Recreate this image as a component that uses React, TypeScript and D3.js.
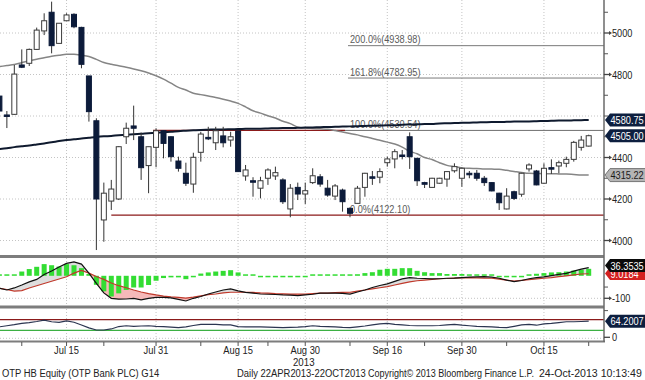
import React from 'react';
import * as d3 from 'd3';

// ---------- DATA ----------
const openP = [4696,4605,4608,4846,4854,4921,5010,5100,4950,5059,5090,5027,4793,4577,4099,4190,4200,4500,4552,4500,4361,4449,4529,4500,4383,4324,4272,4425,4497,4471,4504,4484,4528,4311,4288,4252,4300,4311,4292,4152,4256,4224,4279,4307,4252,4214,4243,4155,4179,4256,4307,4305,4375,4393,4412,4500,4396,4279,4256,4276,4296,4336,4300,4324,4324,4300,4279,4228,4152,4235,4223,4345,4335,4276,4351,4359,4372,4391,4449,4455];
const highP = [4700,4624,4846,4921,4925,5026,5095,5151,5047,5095,5095,5030,4793,4589,4279,4292,4455,4568,4650,4520,4452,4541,4532,4502,4404,4375,4423,4524,4548,4548,4548,4524,4533,4364,4305,4307,4348,4356,4300,4272,4279,4279,4348,4320,4292,4272,4250,4160,4263,4326,4335,4348,4404,4440,4436,4521,4398,4283,4302,4302,4334,4372,4352,4335,4340,4311,4281,4230,4252,4240,4326,4372,4340,4372,4391,4385,4404,4480,4504,4510];
const lowP = [4620,4542,4606,4831,4841,4919,4990,4902,4950,5059,5023,4830,4573,3954,3994,4147,4195,4465,4484,4292,4228,4353,4396,4380,4332,4263,4230,4380,4484,4436,4449,4452,4332,4288,4211,4203,4268,4292,4176,4112,4195,4176,4272,4259,4211,4195,4139,4112,4179,4211,4268,4276,4356,4348,4391,4345,4263,4253,4254,4274,4259,4327,4259,4300,4288,4263,4237,4147,4150,4195,4211,4332,4266,4274,4321,4324,4353,4380,4433,4453];
const closeP = [4624,4605,4802,4835,4921,5014,5059,4939,5047,5087,5030,4849,4621,4200,4228,4248,4452,4541,4541,4351,4452,4529,4468,4404,4348,4276,4401,4513,4497,4529,4471,4500,4332,4340,4281,4288,4340,4327,4187,4252,4224,4240,4312,4272,4219,4263,4187,4131,4252,4324,4307,4332,4393,4428,4412,4404,4288,4271,4300,4300,4332,4356,4348,4324,4300,4279,4239,4182,4214,4203,4324,4364,4268,4348,4351,4375,4391,4473,4484,4505];

const ma50 = [4838,4843,4848,4857,4866,4874,4881,4888,4893,4897,4897,4893,4887,4873,4858,4849,4842,4835,4827,4818,4807,4794,4778,4758,4738,4725,4710,4703,4696,4689,4681,4672,4661,4644,4625,4614,4601,4590,4575,4563,4546,4542,4540,4538,4536,4530,4523,4516,4509,4500,4492,4483,4474,4465,4450,4430,4418,4400,4390,4375,4362,4356,4350,4348,4347,4345,4344,4343,4338,4333,4328,4324,4323,4322,4322,4321,4320,4318,4316,4315.22];
const ma200 = [4441,4445,4450,4454,4458,4463,4468,4473,4479,4484,4488,4491,4495,4499,4502,4504,4507,4509,4512,4514,4517,4519,4522,4524,4527,4529,4531,4533,4534,4535,4535,4536,4537,4538,4539,4539,4540,4541,4542,4542,4543,4544,4545,4546,4547,4548,4549,4550,4551,4552,4553,4554,4555,4556,4558,4559,4560,4561,4562,4564,4565,4566,4567,4568,4569,4570,4571,4571,4572,4573,4574,4574,4575,4576,4577,4578,4578,4579,4580,4580.75];

const macd = [-55,-63,-54,-41,-27,-16,6,21,39,55,62,52,12,-34,-76,-100,-104,-103,-100,-107,-100,-96,-96,-98,-105,-112,-100,-92,-81,-72,-63,-58,-67,-74,-77,-81,-82,-83,-85,-86,-88,-85,-82,-77,-77,-77,-78,-81,-72,-63,-52,-43,-36,-25,-14,-8,-11,-12,-14,-13,-11,-10,-8,-6,-5,-4,-6,-11,-19,-26,-21,-13,-8,-5,1,6,11,21,30,36.3535];
const signal = [-55,-61,-68,-66,-54,-44,-34,-24,-14,-4,12,24,12,-3,-16,-32,-44,-53,-63,-72,-79,-85,-90,-94,-96,-99,-95,-89,-84,-81,-76,-73,-73,-73,-74,-76,-77,-79,-80,-81,-81,-81,-79,-77,-77,-75,-74,-73,-68,-63,-58,-53,-48,-41,-34,-27,-22,-19,-16,-13,-12,-10,-9,-8,-9,-10,-11,-15,-19,-23,-20,-17,-14,-11,-8,-4,0,4,8,9.0184];
const hist = [0,2,4,19,30,40,52,47,41,52,47,34,8,-40,-69,-92,-78,-63,-52,-52,-41,-22,-10,-7,-7,-15,-2,10,15,19,22,25,15,4,2,-2,-2,-3,-3,-3,-4,-2,2,3,3,3,3,2,7,12,16,27,31,31,34,34,22,16,12,12,8,8,8,4,2,2,2,-2,-2,-3,-2,2,9,12,15,16,19,23,27,31];
const rsi = [43,47,51,56,59,63,68,62,60,65,60,50,39,31,31,35,44,47,45,46,47,45,44,42,40,43,48,52,52,52,50,50,44,43,43,43,42,41,40,41,42,44,47,45,44,43,41,40,43,46,50,54,56,52,50,48,47,47,47,48,50,52,49,47,45,44,43,41,40,45,50,52,49,54,56,59,62,62,63,64.2007];

const priceGrid = [4000, 4200, 4400, 4600, 4800, 5000];
const priceTickLabels = [4000, 4200, 4400, 4800, 5000];
const priceMinorTicks = [4100, 4300, 4500, 4600, 4700, 4900, 5100];
const dateTickIdx = [3, 9, 14, 21, 27, 32, 36, 41, 47, 52, 57, 62, 68, 73, 79];
const dateLabels = [
  { i: 9, t: 'Jul 15' }, { i: 21, t: 'Jul 31' }, { i: 32, t: 'Aug 15' }, { i: 41, t: 'Aug 30' },
  { i: 52, t: 'Sep 16' }, { i: 62, t: 'Sep 30' }, { i: 73, t: 'Oct 15' },
];
const yearLabel = { i: 41, t: '2013' };
const fibLevels = [
  { pct: '200.0%', v: 4938.98 },
  { pct: '161.8%', v: 4782.95 },
  { pct: '100.0%', v: 4530.54 },
  { pct: '0.0%', v: 4122.10 },
];
const footerTexts = [
  'OTP HB Equity (OTP Bank PLC) G14',
  'Daily 22APR2013-22OCT2013',
  'Copyright\u00A9 2013 Bloomberg Finance L.P.',
  '24-Oct-2013 10:13:49',
];

// layout (not data)
const footerX = [2, 237, 368, 539];
const footerSx = [0.82, 0.82, 0.785, 0.92];

const FONT = '"Liberation Sans", Arial, sans-serif';
const AXIS_X = 604;

function T({ x, y, s = 11, sx = 0.82, anchor = 'start', fill = '#222', children }: any) {
  return (
    <text transform={`translate(${x},${y}) scale(${sx},1)`} fontSize={s} textAnchor={anchor} fill={fill} fontFamily={FONT}>
      {children}
    </text>
  );
}

function LabelBox({ y, text, fill, color = '#fff', stroke = 'none' }: any) {
  const x0 = AXIS_X + 1;
  const h = 13;
  const pts = `${x0},${y} ${x0 + 5},${y - h / 2} 646,${y - h / 2} 646,${y + h / 2} ${x0 + 5},${y + h / 2}`;
  return (
    <g>
      <polygon points={pts} fill={fill} stroke={stroke} strokeWidth={1} />
      <T x={x0 + 5.5} y={y + 4} s={11.5} sx={0.8} fill={color}>{text}</T>
    </g>
  );
}

export default function App() {
  const N = closeP.length;
  const idx = d3.range(N);
  const x = d3.scaleLinear().domain([0, 79]).range([-0.6, 588.7]);
  const yP = d3.scaleLinear().domain([4000, 5000]).range([240.5, 33]);
  const yM = d3.scaleLinear().domain([-100, 0]).range([298.3, 275.8]);
  const yR = d3.scaleLinear().domain([0, 100]).range([338.3, 311.6]);

  const lineMA50 = d3.line<number>().x((i) => x(i)).y((i) => yP(ma50[i])).curve(d3.curveMonotoneX);
  const lineMA200 = d3.line<number>().x((i) => x(i)).y((i) => yP(ma200[i])).curve(d3.curveMonotoneX);
  const lineMacd = d3.line<number>().x((i) => x(i)).y((i) => yM(macd[i]));
  const lineSig = d3.line<number>().x((i) => x(i)).y((i) => yM(signal[i]));
  const areaUp = d3.area<number>().x((i) => x(i)).y0((i) => yM(signal[i])).y1((i) => yM(Math.max(macd[i], signal[i])));
  const areaDn = d3.area<number>().x((i) => x(i)).y0((i) => yM(signal[i])).y1((i) => yM(Math.min(macd[i], signal[i])));
  const lineRsi = d3.line<number>().x((i) => x(i)).y((i) => yR(rsi[i]));

  const bw = 5;
  const gridV = dateLabels.map((d) => x(d.i));

  return (
    <svg width={645} height={380} style={{ position: 'absolute', left: 0, top: 0, background: '#fff' }} fontFamily={FONT}>
      <defs>
        <clipPath id="cMain"><rect x={0} y={0} width={AXIS_X} height={255} /></clipPath>
        <clipPath id="cMacd"><rect x={0} y={258} width={AXIS_X} height={47.5} /></clipPath>
        <clipPath id="cRsi"><rect x={0} y={308.5} width={AXIS_X} height={32} /></clipPath>
      </defs>
      <rect x={0} y={0} width={645} height={380} fill="#fff" />

      {/* vertical grid */}
      {gridV.map((gx, k) => (
        <line key={'gv' + k} x1={gx} x2={gx} y1={0} y2={341} stroke="#c4c4c4" strokeDasharray="1,2" />
      ))}
      {/* horizontal grid main */}
      {priceGrid.map((v) => (
        <line key={'gh' + v} x1={0} x2={AXIS_X} y1={yP(v)} y2={yP(v)} stroke="#c4c4c4" strokeDasharray="1,2" />
      ))}

      <g clipPath="url(#cMain)">
        {/* fib / trend lines */}
        <line x1={348} x2={AXIS_X} y1={yP(fibLevels[0].v)} y2={yP(fibLevels[0].v)} stroke="#7a7a7a" strokeWidth={1} />
        <line x1={348} x2={AXIS_X} y1={yP(fibLevels[1].v)} y2={yP(fibLevels[1].v)} stroke="#7a7a7a" strokeWidth={1} />
        <line x1={x(20.6)} x2={345} y1={yP(fibLevels[2].v)} y2={yP(fibLevels[2].v)} stroke="#8b1a1a" strokeWidth={1.2} />
        <line x1={345} x2={AXIS_X} y1={yP(fibLevels[2].v)} y2={yP(fibLevels[2].v)} stroke="#6e6e6e" strokeWidth={1} />
        <line x1={x(15)} x2={AXIS_X} y1={yP(fibLevels[3].v)} y2={yP(fibLevels[3].v)} stroke="#8b1a1a" strokeWidth={1.2} />
        {fibLevels.map((f) => (
          <T key={f.pct} x={350} y={yP(f.v) - 2.5} s={11.5} sx={0.8} fill="#5a5a5a">
            {`${f.pct}(${f.v.toFixed(2)})`}
          </T>
        ))}

        {/* moving averages */}
        <path d={lineMA50(idx) || ''} fill="none" stroke="#858585" strokeWidth={1.5} />
        <path d={lineMA200(idx) || ''} fill="none" stroke="#0f1a2e" strokeWidth={2} />

        {/* candles */}
        {idx.map((i) => {
          const o = openP[i], c = closeP[i];
          const up = c > o;
          const top = yP(Math.max(o, c));
          const bot = yP(Math.min(o, c));
          const hgt = Math.max(bot - top, 1.5);
          const cx = x(i);
          return (
            <g key={'c' + i}>
              <line x1={cx} x2={cx} y1={yP(highP[i])} y2={yP(lowP[i])} stroke="#333" strokeWidth={1} />
              <rect x={cx - bw / 2} y={top} width={bw} height={hgt}
                fill={up ? '#fff' : '#0c1b3a'} stroke={up ? '#3a3a3a' : '#0c1b3a'} strokeWidth={1} />
            </g>
          );
        })}
      </g>

      {/* MACD panel */}
      <line x1={0} x2={AXIS_X} y1={yM(-100)} y2={yM(-100)} stroke="#c4c4c4" strokeDasharray="1,2" />
      <g clipPath="url(#cMacd)">
        <path d={areaUp(idx) || ''} fill="#dedede" />
        <path d={areaDn(idx) || ''} fill="#f6b9b9" />
        {idx.map((i) => {
          const y0 = yM(0);
          const y1 = yM(hist[i]);
          const h = Math.max(Math.abs(y1 - y0), 1.5);
          return (
            <rect key={'h' + i} x={x(i) - bw / 2} y={hist[i] >= 0 ? y0 - h : y0} width={bw} height={h} fill="#33dd33" />
          );
        })}
        <path d={lineSig(idx) || ''} fill="none" stroke="#c0392b" strokeWidth={1.2} />
        <path d={lineMacd(idx) || ''} fill="none" stroke="#111" strokeWidth={1.2} />
      </g>

      {/* RSI panel */}
      <line x1={0} x2={AXIS_X} y1={yR(0)} y2={yR(0)} stroke="#c4c4c4" strokeDasharray="1,2" />
      <g clipPath="url(#cRsi)">
        <line x1={0} x2={AXIS_X} y1={yR(70)} y2={yR(70)} stroke="#8b1a1a" strokeWidth={1.2} />
        <line x1={0} x2={AXIS_X} y1={yR(30)} y2={yR(30)} stroke="#3cb043" strokeWidth={1.2} />
        <path d={lineRsi(idx) || ''} fill="none" stroke="#2b3550" strokeWidth={1.2} />
      </g>

      {/* panel separators and axes */}
      <line x1={0} x2={AXIS_X} y1={256.5} y2={256.5} stroke="#7d7d7d" strokeWidth={3} />
      <line x1={0} x2={AXIS_X} y1={307} y2={307} stroke="#7d7d7d" strokeWidth={3} />
      <line x1={0} x2={AXIS_X + 1} y1={341.5} y2={341.5} stroke="#7d7d7d" strokeWidth={2} />
      <line x1={AXIS_X} x2={AXIS_X} y1={0} y2={342} stroke="#6a6a6a" strokeWidth={1.5} />

      {/* bottom ticks and labels */}
      {dateTickIdx.map((i) => (
        <line key={'dt' + i} x1={x(i)} x2={x(i)} y1={342} y2={346} stroke="#555" strokeWidth={1} />
      ))}
      {dateLabels.map((d) => (
        <T key={d.t} x={x(d.i)} y={353.5} s={11} sx={0.85} anchor="middle">{d.t}</T>
      ))}
      <T x={x(yearLabel.i) - 1.5} y={366} s={11} sx={0.88} anchor="middle">{yearLabel.t}</T>

      {/* right price axis */}
      {priceMinorTicks.map((v) => (
        <line key={'mt' + v} x1={AXIS_X} x2={AXIS_X + 4} y1={yP(v)} y2={yP(v)} stroke="#555" strokeWidth={1} />
      ))}
      {priceTickLabels.map((v) => (
        <g key={'pt' + v}>
          <line x1={AXIS_X} x2={AXIS_X + 6} y1={yP(v)} y2={yP(v)} stroke="#444" strokeWidth={1.3} />
          <polygon points={`${AXIS_X + 5},${yP(v) - 2} ${AXIS_X + 8},${yP(v)} ${AXIS_X + 5},${yP(v) + 2}`} fill="#444" />
          <T x={AXIS_X + 8} y={yP(v) + 4} s={11.5} sx={0.8}>{v}</T>
        </g>
      ))}
      <LabelBox y={yP(4580.75)} text="4580.75" fill="#0d1f3f" />
      <LabelBox y={yP(4505)} text="4505.00" fill="#0d1f3f" />
      <LabelBox y={yP(4315.22)} text="4315.22" fill="#b4b4b4" color="#1a1a1a" stroke="#777" />

      {/* MACD axis */}
      <line x1={AXIS_X} x2={AXIS_X + 6} y1={yM(-100)} y2={yM(-100)} stroke="#444" strokeWidth={1.3} />
      <polygon points={`${AXIS_X + 5},${yM(-100) - 2} ${AXIS_X + 8},${yM(-100)} ${AXIS_X + 5},${yM(-100) + 2}`} fill="#444" />
      <T x={AXIS_X + 8} y={yM(-100) + 4} s={11.5} sx={0.8}>-100</T>
      <line x1={AXIS_X} x2={AXIS_X + 4} y1={yM(-50)} y2={yM(-50)} stroke="#555" strokeWidth={1} />
      <LabelBox y={273.5} text="9.0184" fill="#d42020" />
      <LabelBox y={265.5} text="36.3535" fill="#0a0a0a" />

      {/* RSI axis */}
      <line x1={AXIS_X} x2={AXIS_X + 4} y1={yR(100) - 1} y2={yR(100) - 1} stroke="#555" strokeWidth={1} />
      <line x1={AXIS_X} x2={AXIS_X + 6} y1={yR(0) - 1} y2={yR(0) - 1} stroke="#444" strokeWidth={1.3} />
      <T x={AXIS_X + 8} y={yR(0) + 3} s={11.5} sx={0.8}>0</T>
      <LabelBox y={yR(64.2007)} text="64.2007" fill="#0d1f3f" />

      {/* footer */}
      {footerTexts.map((t, k) => (
        <T key={t} x={footerX[k]} y={377} s={11.5} sx={footerSx[k]}>{t}</T>
      ))}
    </svg>
  );
}
